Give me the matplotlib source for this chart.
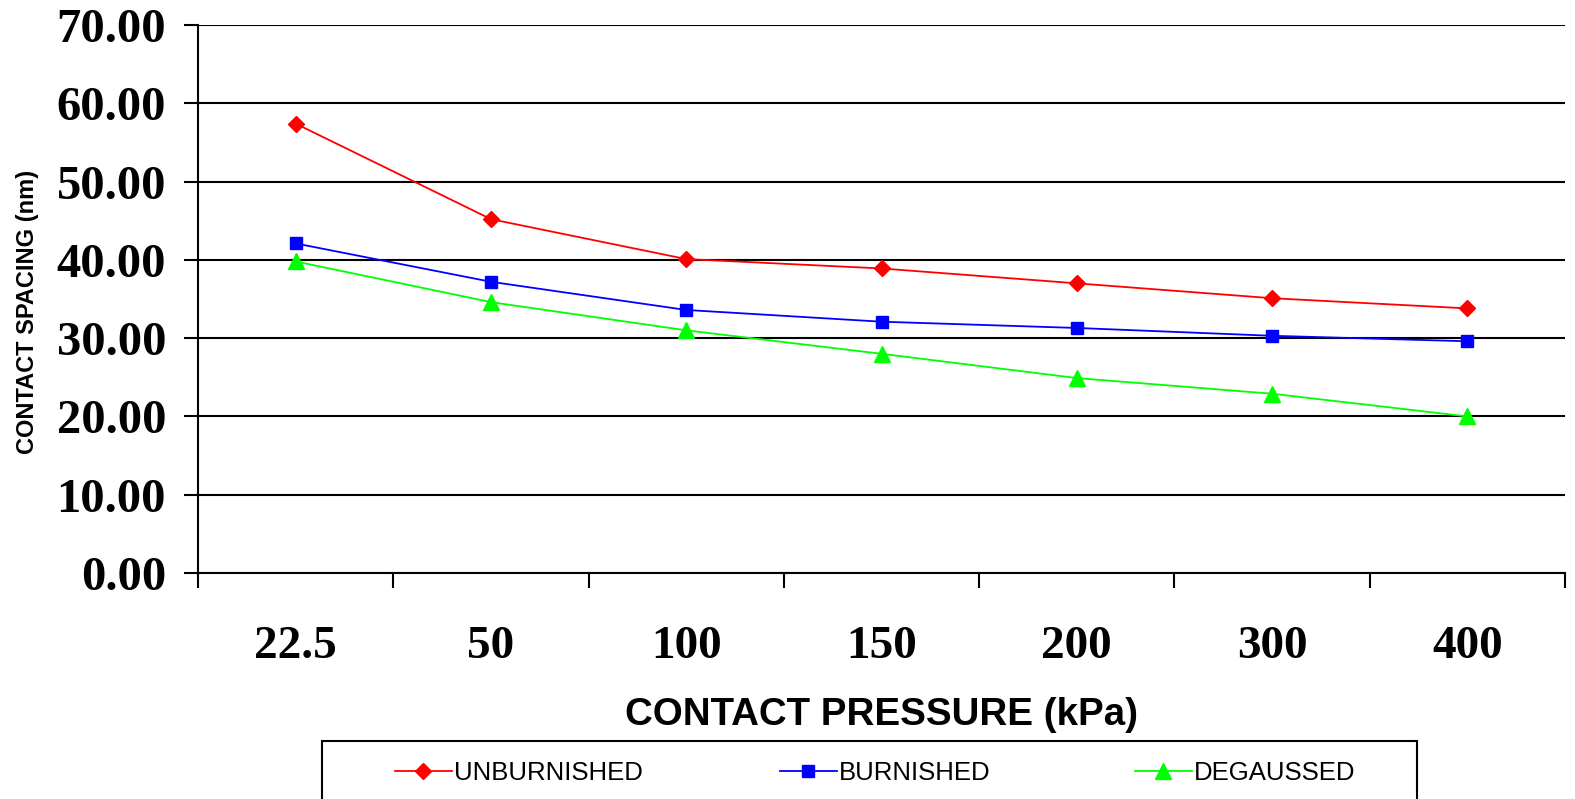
import matplotlib
matplotlib.use('Agg')
import matplotlib.pyplot as plt
from matplotlib.patches import Rectangle
import numpy as np

# Data
pressures = ['22.5', '50', '100', '150', '200', '300', '400']
unburnished = [57.4, 45.2, 40.1, 38.9, 37.0, 35.1, 33.8]
burnished = [42.1, 37.2, 33.6, 32.1, 31.3, 30.3, 29.6]
degaussed = [39.8, 34.6, 31.0, 28.0, 24.9, 22.9, 20.0]

W, H = 1575, 799
fig = plt.figure(figsize=(W/100, H/100), dpi=100)
ax = fig.add_axes([198/W, 1 - 573/H, (1565 - 198)/W, (573 - 25)/H])

x = np.arange(len(pressures))
l1, = ax.plot(x, unburnished, color='#ff0000', marker='D', markersize=8, linewidth=1.3, label='UNBURNISHED')
l2, = ax.plot(x, burnished, color='#0000ff', marker='s', markersize=9, linewidth=1.3, label='BURNISHED')
l3, = ax.plot(x, degaussed, color='#00ff00', marker='^', markersize=11, linewidth=1.3, label='DEGAUSSED')

ax.set_xlim(-0.5, len(pressures) - 0.5)
ax.set_ylim(0, 70)
ax.set_yticks(np.arange(0, 71, 10))
ax.set_yticklabels([f'{v:.2f}' for v in np.arange(0, 71, 10)],
                   fontfamily='Liberation Serif', fontweight='bold', fontsize=35)
ax.yaxis.grid(True, color='black', linewidth=1.5)
ax.set_axisbelow(True)

# category labels centred, tick marks between categories
ax.set_xticks(np.arange(-0.5, len(pressures), 1.0))
ax.set_xticklabels([])
ax.set_xticks(x, minor=True)
ax.set_xticklabels(pressures, minor=True, fontfamily='Liberation Serif', fontweight='bold', fontsize=34)
ax.tick_params(axis='x', which='minor', length=0, pad=38)
ax.tick_params(axis='x', which='major', length=11, width=1.5, direction='out')
ax.tick_params(axis='y', length=10, width=1.5, direction='out', pad=13)

for side in ['top', 'right']:
    ax.spines[side].set_visible(False)
ax.spines['left'].set_linewidth(1.5)
ax.spines['bottom'].set_linewidth(1.5)

ax.set_xlabel('CONTACT PRESSURE (kPa)', fontfamily='Liberation Sans', fontweight='bold', fontsize=27.7, labelpad=21)
fig.text(28/W, 1 - 312/H, 'CONTACT SPACING (nm)', rotation=90, ha='center', va='center',
         fontfamily='Liberation Sans', fontweight='bold', fontsize=17)

# legend box (runs past the bottom edge, as in the original)
fig.patches.append(Rectangle((322/W, -0.05), (1417 - 322)/W, 0.05 + (H - 741)/H,
                             transform=fig.transFigure, fill=False, edgecolor='black', linewidth=1.5))
for line, xs in [(l1, 395), (l2, 780), (l3, 1135)]:
    fig.legend(handles=[line], loc='center left', bbox_to_anchor=(xs/W, 1 - 773/H),
               frameon=False, borderpad=0, borderaxespad=0, handlelength=2.2, handletextpad=0.1,
               prop={'family': 'Liberation Sans', 'size': 18.5})

fig.savefig('out.png', dpi=100)
